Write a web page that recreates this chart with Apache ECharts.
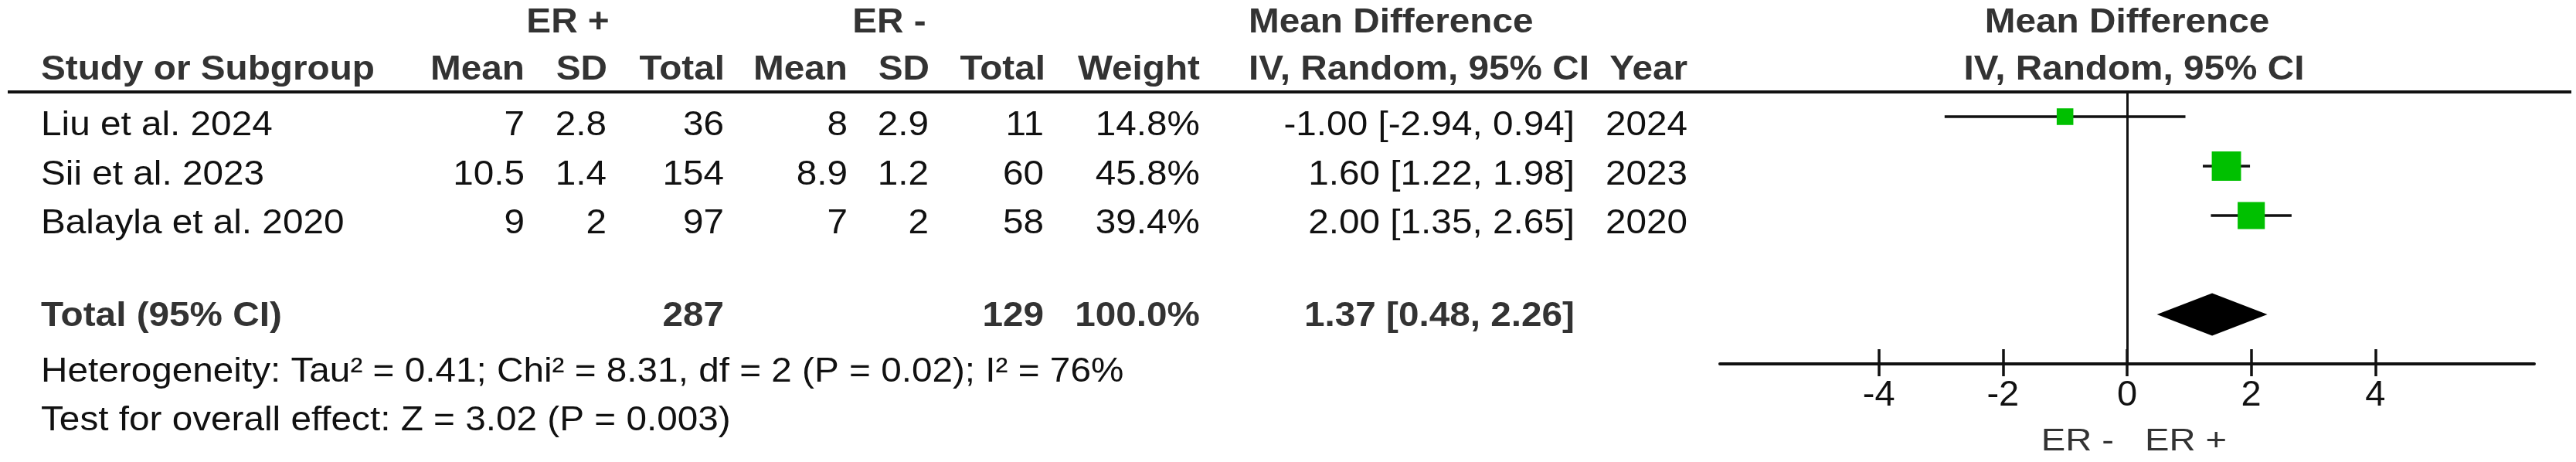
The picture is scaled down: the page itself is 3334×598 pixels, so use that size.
<!DOCTYPE html>
<html>
<head>
<meta charset="utf-8">
<script src="https://cdn.jsdelivr.net/npm/echarts@6/dist/echarts.min.js"></script>
<style>
html,body{margin:0;padding:0;background:#fff;}
#chart{width:3334px;height:598px;}
</style>
</head>
<body>
<div id="chart"></div>
<script>
// ---------- data ----------
const studies     = ['Liu et al. 2024', 'Sii et al. 2023', 'Balayla et al. 2020'];
const erPosMean   = [7, 10.5, 9];
const erPosSD     = [2.8, 1.4, 2];
const erPosTotal  = [36, 154, 97];
const erNegMean   = [8, 8.9, 7];
const erNegSD     = [2.9, 1.2, 2];
const erNegTotal  = [11, 60, 58];
const weights     = [14.8, 45.8, 39.4];
const meanDiff    = [-1.00, 1.60, 2.00];
const ciLow       = [-2.94, 1.22, 1.35];
const ciHigh      = [0.94, 1.98, 2.65];
const years       = [2024, 2023, 2020];

const totalLabel     = 'Total (95% CI)';
const totalPos       = 287;
const totalNeg       = 129;
const totalWeight    = 100.0;
const pooledMD       = 1.37;
const pooledLow      = 0.48;
const pooledHigh     = 2.26;

const heterogeneityText = 'Heterogeneity: Tau\u00B2 = 0.41; Chi\u00B2 = 8.31, df = 2 (P = 0.02); I\u00B2 = 76%';
const overallEffectText = 'Test for overall effect: Z = 3.02 (P = 0.003)';

const xTicks      = [-4, -2, 0, 2, 4];
const favoursLeft = 'ER -';
const favoursRight = 'ER +';

// ---------- layout / style ----------
const FONT = '"Liberation Sans", Arial, Helvetica, sans-serif';
const FS = 45, SX = 1.06;
const REG = '#111', BOLD = '#333';

function txt(str, x, y, align, bold, extra) {
  extra = extra || {};
  const fs = extra.fs || FS;
  return {
    type: 'text', x: x, y: y, scaleX: extra.sx || SX, silent: true, z: 10,
    style: {
      text: String(str),
      fill: extra.color || (bold ? BOLD : REG),
      font: (bold ? 'bold ' : '') + fs + 'px ' + FONT,
      textAlign: align, align: align,
      textVerticalAlign: 'middle', verticalAlign: 'middle'
    }
  };
}

const colX = { study: 53, posMean: 679, posSD: 785, posTotal: 937, negMean: 1097, negSD: 1202,
               negTotal: 1351, weight: 1553, ci: 2038, ciLeft: 1616, year: 2184 };
const rowY = { h1: 30, h2: 91, studies: [163, 227, 290], total: 410, het: 482, test: 545 };

const f2 = v => v.toFixed(2);
const ciText = (m, l, h) => f2(m) + ' [' + f2(l) + ', ' + f2(h) + ']';

const g = [];
// header row 1
g.push(txt('ER +', 735, rowY.h1, 'center', true));
g.push(txt('ER -', 1151, rowY.h1, 'center', true));
g.push(txt('Mean Difference', colX.ciLeft, rowY.h1, 'left', true));
g.push(txt('Mean Difference', 2753, rowY.h1, 'center', true));
// header row 2
g.push(txt('Study or Subgroup', colX.study, rowY.h2, 'left', true));
g.push(txt('Mean', colX.posMean, rowY.h2, 'right', true));
g.push(txt('SD', colX.posSD + 1, rowY.h2, 'right', true));
g.push(txt('Total', colX.posTotal + 1, rowY.h2, 'right', true));
g.push(txt('Mean', colX.negMean, rowY.h2, 'right', true));
g.push(txt('SD', colX.negSD + 1, rowY.h2, 'right', true));
g.push(txt('Total', colX.negTotal + 2, rowY.h2, 'right', true));
g.push(txt('Weight', colX.weight, rowY.h2, 'right', true));
g.push(txt('IV, Random, 95% CI', colX.ciLeft, rowY.h2, 'left', true));
g.push(txt('Year', colX.year, rowY.h2, 'right', true));
g.push(txt('IV, Random, 95% CI', 2762, rowY.h2, 'center', true));
// study rows
studies.forEach((s, i) => {
  const y = rowY.studies[i];
  g.push(txt(s, colX.study, y, 'left', false));
  g.push(txt(erPosMean[i], colX.posMean, y, 'right', false));
  g.push(txt(erPosSD[i], colX.posSD, y, 'right', false));
  g.push(txt(erPosTotal[i], colX.posTotal, y, 'right', false));
  g.push(txt(erNegMean[i], colX.negMean, y, 'right', false));
  g.push(txt(erNegSD[i], colX.negSD, y, 'right', false));
  g.push(txt(erNegTotal[i], colX.negTotal, y, 'right', false));
  g.push(txt(weights[i].toFixed(1) + '%', colX.weight, y, 'right', false));
  g.push(txt(ciText(meanDiff[i], ciLow[i], ciHigh[i]), colX.ci, y, 'right', false));
  g.push(txt(years[i], colX.year, y, 'right', false));
});
// total row
g.push(txt(totalLabel, colX.study, rowY.total, 'left', true));
g.push(txt(totalPos, colX.posTotal, rowY.total, 'right', true));
g.push(txt(totalNeg, colX.negTotal, rowY.total, 'right', true));
g.push(txt(totalWeight.toFixed(1) + '%', colX.weight, rowY.total, 'right', true));
g.push(txt(ciText(pooledMD, pooledLow, pooledHigh), colX.ci, rowY.total, 'right', true));
g.push(txt(heterogeneityText, colX.study, rowY.het, 'left', false));
g.push(txt(overallEffectText, colX.study, rowY.test, 'left', false));
// favours labels
g.push(txt(favoursLeft, 2736, 572, 'right', false, { fs: 41, sx: 1.15, color: '#333' }));
g.push(txt(favoursRight, 2776, 572, 'left', false, { fs: 41, sx: 1.15, color: '#333' }));
// header rule
g.push({ type: 'line', silent: true, shape: { x1: 10, y1: 119, x2: 3328, y2: 119 },
         style: { stroke: '#111', lineWidth: 4 } });

// ---------- series data ----------
const ciData = studies.map((s, i) => [ciLow[i], ciHigh[i], i]);
const pointData = studies.map((s, i) => [meanDiff[i], i, weights[i]]);
const pooledRow = 4;
const diamondData = [[pooledLow, pooledHigh, pooledMD, pooledRow]];

const chart = echarts.init(document.getElementById('chart'), null, { renderer: 'canvas' });
const XMIN = -6.56, XMAX = 6.56;
chart.setOption({
  animation: false,
  backgroundColor: '#fff',
  grid: { left: 2226, top: 119, width: 1054, height: 352, containLabel: false },
  xAxis: [
    { type: 'value', min: XMIN, max: XMAX, position: 'bottom',
      axisLine: { show: true, onZero: false, lineStyle: { color: '#111', width: 4 } },
      axisTick: { show: true, inside: false, length: 16, customValues: xTicks,
                  lineStyle: { color: '#111', width: 3.5 } },
      axisLabel: { show: true, customValues: xTicks, fontSize: 47, fontFamily: FONT,
                   color: '#111', margin: 18 },
      splitLine: { show: false } },
    { type: 'value', min: XMIN, max: XMAX, position: 'bottom',
      axisLine: { show: false, onZero: false },
      axisTick: { show: true, inside: true, length: 19, customValues: xTicks,
                  lineStyle: { color: '#111', width: 3.5 } },
      axisLabel: { show: false },
      splitLine: { show: false } }
  ],
  yAxis: { type: 'value', inverse: true, min: -0.5, max: 5,
           axisLine: { show: true, onZero: true, lineStyle: { color: '#111', width: 3 } },
           axisTick: { show: false }, axisLabel: { show: false }, splitLine: { show: false } },
  graphic: { elements: g },
  series: [
    { type: 'custom', name: 'CI', data: ciData, clip: false, z: 2,
      encode: { x: [0, 1], y: 2 },
      renderItem: function (params, api) {
        const p1 = api.coord([api.value(0), api.value(2)]);
        const p2 = api.coord([api.value(1), api.value(2)]);
        return { type: 'line', shape: { x1: p1[0], y1: p1[1], x2: p2[0], y2: p2[1] },
                 style: { stroke: '#111', lineWidth: 3.5 } };
      } },
    { type: 'scatter', name: 'Mean Difference', data: pointData, z: 3,
      symbol: 'rect', symbolSize: v => Math.sqrt(v[2]) * 5.6,
      itemStyle: { color: '#00c000', opacity: 1 } },
    { type: 'custom', name: 'Total', data: diamondData, clip: false, z: 3,
      encode: { x: [0, 1, 2], y: 3 },
      renderItem: function (params, api) {
        const y = api.value(3);
        const l = api.coord([api.value(0), y]);
        const r = api.coord([api.value(1), y]);
        const m = api.coord([api.value(2), y]);
        const h = 27.5;
        return { type: 'polygon',
                 shape: { points: [[l[0], l[1]], [m[0], m[1] - h], [r[0], r[1]], [m[0], m[1] + h]] },
                 style: { fill: '#000' } };
      } }
  ]
});
</script>
</body>
</html>
